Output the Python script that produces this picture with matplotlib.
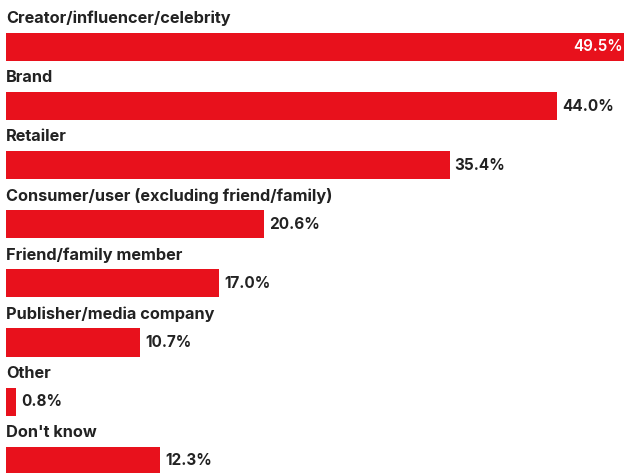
import numpy as np
import matplotlib.pyplot as plt

labels = ['Creator/influencer/celebrity', 'Brand', 'Retailer',
          'Consumer/user (excluding friend/family)', 'Friend/family member',
          'Publisher/media company', 'Other', "Don't know"]
values = [49.5, 44.0, 35.4, 20.6, 17.0, 10.7, 0.8, 12.3]

red = '#e8111c'
txt = '#222222'

plt.rcParams['font.family'] = ['Inter', 'DejaVu Sans']

fig = plt.figure(figsize=(6.24, 4.73), dpi=100)
ax = fig.add_axes([0, 0, 1, 1])

y = np.arange(len(values))
ax.barh(y, values, height=0.474, color=red)

for i, (lab, v) in enumerate(zip(labels, values)):
    ax.text(0, i - 0.48, lab, ha='left', va='center', fontsize=11.75,
            fontweight='bold', color=txt)
    if i == 0:
        ax.text(49.2, i, f'{v:.1f}%', ha='right', va='center', fontsize=11,
                fontweight='semibold', color='white')
    else:
        ax.text(v + 0.4, i, f'{v:.1f}%', ha='left', va='center', fontsize=11,
                fontweight='bold', color=txt)

ax.set_xlim(-6 / 12.53, 618 / 12.53)
ax.set_ylim(7.208, -0.795)
ax.axis('off')

plt.savefig('out.png', dpi=100)
